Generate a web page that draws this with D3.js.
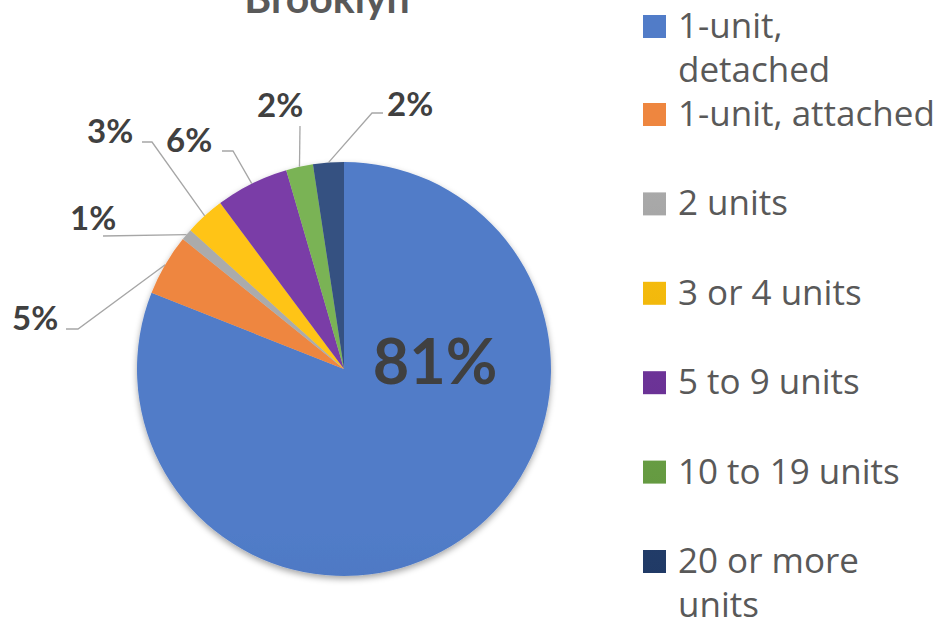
<!DOCTYPE html>
<html>
<head>
<meta charset="utf-8">
<script src="https://cdn.jsdelivr.net/npm/d3@7"></script>
<style>
  body { margin: 0; background: #fff; }
  svg { display: block; font-family: Lato, "Open Sans", sans-serif; }
</style>
</head>
<body>
<div id="chart"></div>
<script>
// data
var categories = ['1-unit, detached', '1-unit, attached', '2 units', '3 or 4 units',
                  '5 to 9 units', '10 to 19 units', '20 or more units'];
var shares = [81.0, 4.8, 0.9, 3.1, 5.7, 2.1, 2.4];
var colors = ['#4472C4', '#ED7D31', '#A5A5A5', '#FFC000', '#7030A0', '#70AD47', '#264478'];
var title = 'Brooklyn';

// label placement for the outside labels (text left x, baseline y, leader start + elbow)
var labelPos = [
  null,
  { x: 12, y: 330, lx: 66, ly: 329, ex: 78 },
  { x: 70, y: 230, lx: 103, ly: 236, ex: 103 },
  { x: 87, y: 143, lx: 142, ly: 142, ex: 152 },
  { x: 166, y: 152, lx: 222, ly: 151, ex: 233 },
  { x: 257, y: 117, lx: 300, ly: 126, ex: 300 },
  { x: 387, y: 116, lx: 383, ly: 113, ex: 372 }
];

var width = 948;
var height = 628;
var cx = 344, cy = 369, radius = 207;

var svg = d3.select('#chart').append('svg')
    .attr('width', width)
    .attr('height', height);

var defs = svg.append('defs');

var shadow = defs.append('filter')
    .attr('id', 'shadow')
    .attr('x', '-10%').attr('y', '-10%')
    .attr('width', '120%').attr('height', '125%');
shadow.append('feDropShadow')
    .attr('dx', 0).attr('dy', 3)
    .attr('stdDeviation', 3)
    .attr('flood-color', '#000')
    .attr('flood-opacity', 0.35);

// excel-ish gradient: lighter at top, a bit darker at bottom
colors.forEach(function(c, i) {
    var g = defs.append('linearGradient')
        .attr('id', 'grad' + i)
        .attr('gradientUnits', 'userSpaceOnUse')
        .attr('x1', 0).attr('y1', cy - radius)
        .attr('x2', 0).attr('y2', cy + radius);
    g.append('stop').attr('offset', '0%').attr('stop-color', d3.interpolateRgb(c, '#fff')(0.07));
    g.append('stop').attr('offset', '100%').attr('stop-color', d3.interpolateRgb(c, '#000')(0.15));
});

// title (partly cut off at the top like the original)
svg.append('text')
    .attr('x', 327)
    .attr('y', 13)
    .attr('text-anchor', 'middle')
    .attr('font-size', 41)
    .attr('font-weight', 'bold')
    .attr('fill', '#595959')
    .text(title);

var pie = d3.pie()
    .value(function(d) { return d; })
    .sort(null);

var arc = d3.arc()
    .innerRadius(0)
    .outerRadius(radius);

var arcs = pie(shares);

var g = svg.append('g')
    .attr('transform', 'translate(' + cx + ',' + cy + ')');

g.append('g')
    .attr('filter', 'url(#shadow)')
    .selectAll('path')
    .data(arcs)
    .enter()
    .append('path')
    .attr('d', arc)
    .attr('fill', function(d, i) { return 'url(#grad' + i + ')'; });

// big label inside the main slice
svg.append('text')
    .attr('x', 435)
    .attr('y', 384)
    .attr('text-anchor', 'middle')
    .attr('font-size', 63)
    .attr('font-weight', 'bold')
    .attr('fill', '#404040')
    .text(Math.round(shares[0]) + '%');

// outside labels with leader lines
arcs.forEach(function(d, i) {
    var p = labelPos[i];
    if (!p) return;
    var mid = (d.startAngle + d.endAngle) / 2;
    var px = cx + radius * Math.sin(mid);
    var py = cy - radius * Math.cos(mid);
    var pts = [[p.lx, p.ly], [p.ex, p.ly], [px, py]];
    svg.append('path')
        .attr('d', d3.line()(pts))
        .attr('fill', 'none')
        .attr('stroke', '#A6A6A6')
        .attr('stroke-width', 1.3);
    svg.append('text')
        .attr('x', p.x)
        .attr('y', p.y)
        .attr('font-size', 33)
        .attr('font-weight', 'bold')
        .attr('fill', '#404040')
        .text(Math.round(shares[i]) + '%');
});

// legend
var legendX = 643, textX = 678, maxW = 262;
var lineH = 44, rowH = 89.4, firstBase = 38;
var legend = svg.append('g')
    .attr('font-family', '"Open Sans", sans-serif')
    .attr('font-size', 35)
    .attr('fill', '#595959');

function wrap(str) {
    var probe = legend.append('text');
    var words = str.split(' '), lines = [], cur = '';
    words.forEach(function(w) {
        var test = cur ? cur + ' ' + w : w;
        probe.text(test);
        if (cur && probe.node().getComputedTextLength() > maxW) {
            lines.push(cur);
            cur = w;
        } else {
            cur = test;
        }
    });
    lines.push(cur);
    probe.remove();
    return lines;
}

categories.forEach(function(c, i) {
    var base = i === 0 ? firstBase : 126 + (i - 1) * rowH;
    legend.append('rect')
        .attr('x', legendX)
        .attr('y', base - 23)
        .attr('width', 23)
        .attr('height', 23)
        .attr('fill', 'url(#grad' + i + ')');
    var lines = wrap(c);
    var t = legend.append('text').attr('x', textX).attr('y', base);
    lines.forEach(function(l, j) {
        t.append('tspan')
            .attr('x', textX)
            .attr('y', base + j * lineH)
            .text(l);
    });
});
</script>
</body>
</html>
